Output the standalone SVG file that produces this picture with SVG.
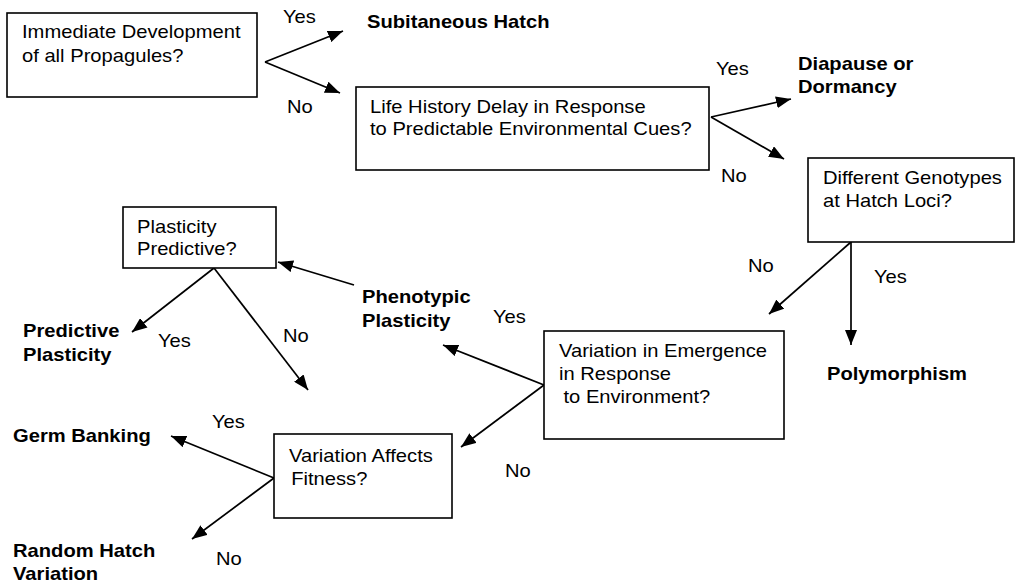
<svg xmlns="http://www.w3.org/2000/svg" width="1018" height="585" viewBox="0 0 1018 585">
<style>
  .box { fill: #fff; stroke: #000; stroke-width: 1.6; }
  .t { font-family: "Liberation Sans", Arial, sans-serif; font-size: 18px; fill: #000; }
  .b { font-family: "Liberation Sans", Arial, sans-serif; font-size: 18px; font-weight: bold; fill: #000; }
  .c line { stroke: #000; stroke-width: 1.7; marker-end: url(#ah); }
</style>
<defs>
  <marker id="ah" markerUnits="userSpaceOnUse" markerWidth="16" markerHeight="12" refX="15" refY="6" orient="auto">
    <path d="M0,0 L15,6 L0,12 z" fill="#000"/>
  </marker>
</defs>
<rect width="1018" height="585" fill="#fff"/>

<g id="connectors" class="c">
  <line x1="265" y1="62" x2="343" y2="31"/>
  <line x1="265" y1="62" x2="340" y2="93"/>
  <line x1="711" y1="117" x2="791" y2="99"/>
  <line x1="711" y1="117" x2="784" y2="159"/>
  <line x1="851" y1="242" x2="769" y2="314"/>
  <line x1="851" y1="242" x2="851" y2="345"/>
  <line x1="544" y1="385" x2="443" y2="345"/>
  <line x1="544" y1="385" x2="461" y2="447"/>
  <line x1="354" y1="285" x2="278" y2="262"/>
  <line x1="214" y1="268" x2="132" y2="332"/>
  <line x1="214" y1="268" x2="308" y2="390"/>
  <line x1="274" y1="478" x2="171" y2="436"/>
  <line x1="274" y1="478" x2="192" y2="539"/>
</g>

<g id="node-immediate">
  <rect class="box" x="7" y="13" width="250" height="84"/>
  <text class="t" transform="translate(22,38) scale(1.12,1)"><tspan x="0" y="0">Immediate Development</tspan><tspan x="0" y="24">of all Propagules?</tspan></text>
</g>
<g id="node-lifehistory">
  <rect class="box" x="356" y="87" width="353" height="83"/>
  <text class="t" transform="translate(370,113) scale(1.12,1)"><tspan x="0" y="0">Life History Delay in Response</tspan><tspan x="0" y="22">to Predictable Environmental Cues?</tspan></text>
</g>
<g id="node-genotypes">
  <rect class="box" x="808" y="158" width="206" height="84"/>
  <text class="t" transform="translate(823,184) scale(1.12,1)"><tspan x="0" y="0">Different Genotypes</tspan><tspan x="0" y="23">at Hatch Loci?</tspan></text>
</g>
<g id="node-emergence">
  <rect class="box" x="544" y="331" width="240" height="108"/>
  <text class="t" transform="translate(559,357) scale(1.12,1)"><tspan x="0" y="0">Variation in Emergence</tspan><tspan x="0" y="23">in Response</tspan><tspan x="4" y="46">to Environment?</tspan></text>
</g>
<g id="node-plasticity-predictive">
  <rect class="box" x="123" y="207" width="153" height="61"/>
  <text class="t" transform="translate(137,233) scale(1.12,1)"><tspan x="0" y="0">Plasticity</tspan><tspan x="0" y="22">Predictive?</tspan></text>
</g>
<g id="node-fitness">
  <rect class="box" x="274" y="434" width="178" height="84"/>
  <text class="t" transform="translate(289,462) scale(1.12,1)"><tspan x="0" y="0">Variation Affects</tspan><tspan x="2" y="23">Fitness?</tspan></text>
</g>

<g id="node-subitaneous"><text class="b" transform="translate(367,28) scale(1.12,1)">Subitaneous Hatch</text></g>
<g id="node-diapause"><text class="b" transform="translate(798,70) scale(1.12,1)"><tspan x="0" y="0">Diapause or</tspan><tspan x="0" y="23">Dormancy</tspan></text></g>
<g id="node-polymorphism"><text class="b" transform="translate(827,380) scale(1.12,1)">Polymorphism</text></g>
<g id="node-phenotypic"><text class="b" transform="translate(362,303) scale(1.12,1)"><tspan x="0" y="0">Phenotypic</tspan><tspan x="0" y="24">Plasticity</tspan></text></g>
<g id="node-predictive"><text class="b" transform="translate(23,337) scale(1.12,1)"><tspan x="0" y="0">Predictive</tspan><tspan x="0" y="24">Plasticity</tspan></text></g>
<g id="node-germ"><text class="b" transform="translate(13,442) scale(1.12,1)">Germ Banking</text></g>
<g id="node-random"><text class="b" transform="translate(13,557) scale(1.12,1)"><tspan x="0" y="0">Random Hatch</tspan><tspan x="0" y="23">Variation</tspan></text></g>

<g id="edge-labels">
  <text class="t" transform="translate(283,23) scale(1.12,1)">Yes</text>
  <text class="t" transform="translate(287,113) scale(1.12,1)">No</text>
  <text class="t" transform="translate(716,75) scale(1.12,1)">Yes</text>
  <text class="t" transform="translate(721,182) scale(1.12,1)">No</text>
  <text class="t" transform="translate(748,272) scale(1.12,1)">No</text>
  <text class="t" transform="translate(874,283) scale(1.12,1)">Yes</text>
  <text class="t" transform="translate(493,323) scale(1.12,1)">Yes</text>
  <text class="t" transform="translate(505,477) scale(1.12,1)">No</text>
  <text class="t" transform="translate(283,342) scale(1.12,1)">No</text>
  <text class="t" transform="translate(158,347) scale(1.12,1)">Yes</text>
  <text class="t" transform="translate(212,428) scale(1.12,1)">Yes</text>
  <text class="t" transform="translate(216,565) scale(1.12,1)">No</text>
</g>
</svg>
